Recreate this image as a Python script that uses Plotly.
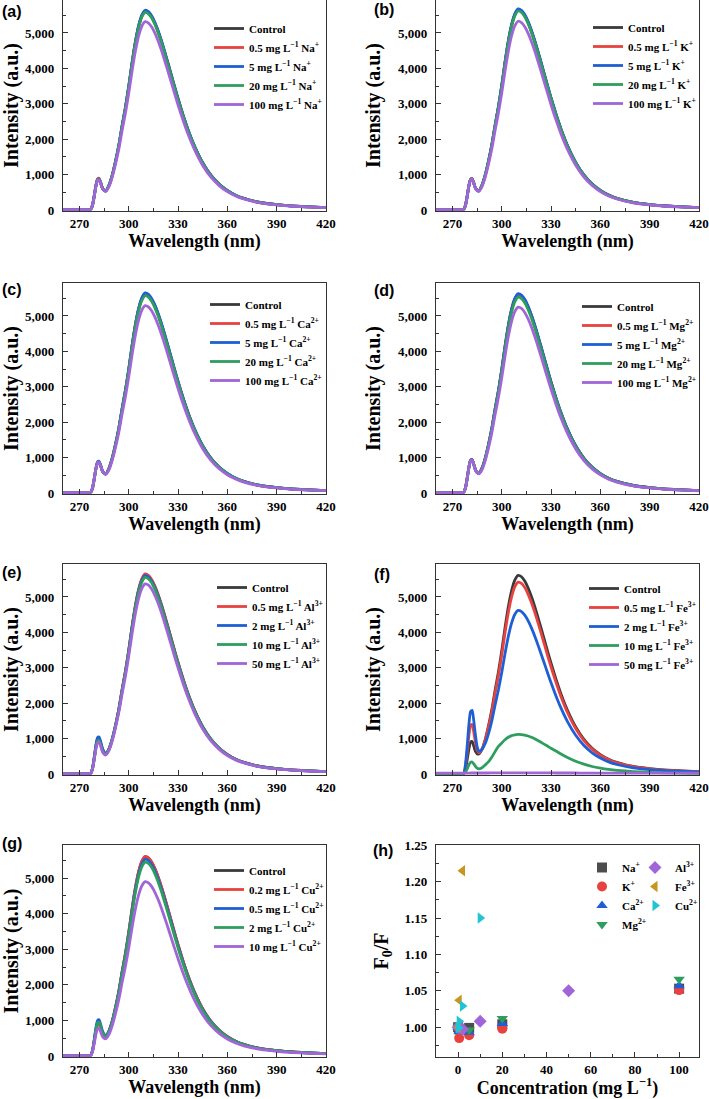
import plotly.graph_objects as go

# ---------------- data ----------------
wl = [260, 276, 277, 278, 279, 280, 281, 282, 283, 284, 285, 286, 288, 290, 292, 294, 296, 298,
      300, 302, 304, 306, 308, 310, 312, 314, 316, 318, 320, 322, 324, 326, 328, 330,
      333, 336, 340, 345, 350, 355, 360, 365, 370, 380, 390, 400, 410, 420]

# (a) Na+
a_control = [15, 15, 30, 150, 400, 680, 860, 880, 760, 620, 560, 540, 700, 990, 1380, 1830, 2380, 2890, 3480, 4130, 4720, 5180, 5480, 5610, 5570, 5450, 5260, 5020, 4740, 4430, 4110, 3780, 3450, 3130, 2680, 2270, 1800, 1330, 980, 730, 550, 420, 330, 215, 155, 115, 90, 72]
a_05 = [15, 15, 30, 155, 410, 695, 880, 900, 775, 630, 565, 540, 700, 990, 1380, 1830, 2380, 2890, 3486, 4137, 4728, 5189, 5490, 5620, 5580, 5460, 5269, 5029, 4748, 4438, 4117, 3787, 3456, 3136, 2680, 2270, 1800, 1330, 980, 730, 550, 420, 330, 215, 155, 115, 90, 72]
a_5 = [15, 15, 30, 150, 400, 680, 860, 880, 760, 620, 560, 540, 705, 995, 1390, 1840, 2390, 2905, 3499, 4152, 4745, 5208, 5509, 5640, 5600, 5479, 5288, 5047, 4765, 4454, 4132, 3800, 3468, 3147, 2695, 2282, 1810, 1337, 985, 734, 553, 422, 332, 216, 156, 116, 90, 72]
a_20 = [15, 15, 30, 148, 395, 672, 850, 870, 752, 614, 556, 538, 697, 985, 1373, 1820, 2368, 2875, 3461, 4108, 4695, 5152, 5451, 5580, 5540, 5421, 5232, 4993, 4715, 4406, 4088, 3760, 3432, 3113, 2666, 2258, 1790, 1323, 975, 726, 547, 418, 328, 214, 154, 114, 89, 72]
a_100 = [15, 15, 30, 145, 385, 655, 835, 850, 735, 600, 550, 535, 664, 939, 1308, 1735, 2256, 2740, 3299, 3915, 4475, 4911, 5195, 5318, 5280, 5167, 4986, 4759, 4494, 4200, 3896, 3583, 3271, 2967, 2541, 2152, 1706, 1261, 929, 692, 521, 398, 313, 204, 147, 109, 85, 68]

# (b) K+
b_control = [15, 15, 30, 150, 400, 680, 860, 880, 760, 620, 560, 540, 703, 995, 1388, 1842, 2395, 2910, 3505, 4160, 4754, 5217, 5519, 5650, 5610, 5489, 5298, 5056, 4774, 4462, 4139, 3807, 3474, 3152, 2699, 2286, 1813, 1340, 987, 735, 554, 423, 332, 217, 156, 116, 91, 73]
b_05 = [15, 15, 30, 152, 405, 688, 870, 890, 768, 625, 562, 540, 703, 995, 1388, 1842, 2395, 2910, 3505, 4160, 4754, 5217, 5519, 5650, 5610, 5489, 5298, 5056, 4774, 4462, 4139, 3807, 3474, 3152, 2699, 2286, 1813, 1340, 987, 735, 554, 423, 332, 217, 156, 116, 91, 73]
b_5 = [15, 15, 30, 150, 400, 680, 860, 880, 760, 620, 560, 540, 709, 1002, 1397, 1853, 2410, 2926, 3523, 4182, 4779, 5245, 5548, 5680, 5640, 5518, 5326, 5083, 4799, 4485, 4161, 3827, 3493, 3169, 2713, 2298, 1822, 1347, 992, 739, 557, 425, 334, 218, 157, 116, 91, 73]
b_20 = [15, 15, 30, 150, 400, 680, 860, 880, 760, 620, 560, 540, 701, 992, 1382, 1833, 2384, 2895, 3486, 4137, 4728, 5189, 5490, 5620, 5580, 5460, 5269, 5029, 4748, 4438, 4117, 3787, 3456, 3136, 2685, 2274, 1803, 1332, 982, 731, 551, 421, 331, 215, 155, 115, 90, 72]
b_100 = [15, 15, 30, 150, 395, 670, 850, 870, 750, 612, 553, 536, 665, 941, 1311, 1739, 2261, 2746, 3306, 3924, 4484, 4922, 5206, 5330, 5292, 5178, 4997, 4769, 4503, 4209, 3905, 3591, 3278, 2974, 2546, 2157, 1710, 1264, 931, 694, 523, 399, 314, 204, 147, 109, 86, 68]

# (c) Ca2+
c_control = [15, 15, 30, 150, 400, 680, 860, 880, 760, 620, 560, 540, 701, 992, 1382, 1833, 2384, 2895, 3486, 4137, 4728, 5189, 5490, 5620, 5580, 5460, 5269, 5029, 4748, 4438, 4117, 3787, 3456, 3136, 2685, 2274, 1803, 1332, 982, 731, 551, 421, 331, 215, 155, 115, 90, 72]
c_05 = [15, 15, 30, 150, 400, 680, 860, 880, 760, 620, 560, 540, 701, 992, 1382, 1833, 2384, 2895, 3486, 4137, 4728, 5189, 5490, 5620, 5580, 5460, 5269, 5029, 4748, 4438, 4117, 3787, 3456, 3136, 2685, 2274, 1803, 1332, 982, 731, 551, 421, 331, 215, 155, 115, 90, 72]
c_5 = [15, 15, 30, 155, 410, 695, 880, 900, 775, 630, 565, 540, 703, 995, 1388, 1842, 2395, 2910, 3505, 4160, 4754, 5217, 5519, 5650, 5610, 5489, 5298, 5056, 4774, 4462, 4139, 3807, 3474, 3152, 2699, 2286, 1813, 1340, 987, 735, 554, 423, 332, 217, 156, 116, 91, 73]
c_20 = [15, 15, 30, 150, 400, 680, 860, 880, 760, 620, 560, 540, 695, 983, 1370, 1817, 2363, 2869, 3455, 4100, 4686, 5143, 5441, 5570, 5530, 5411, 5222, 4984, 4706, 4398, 4081, 3753, 3426, 3108, 2661, 2254, 1787, 1320, 973, 725, 546, 417, 328, 213, 154, 114, 89, 71]
c_100 = [15, 15, 30, 148, 395, 672, 850, 870, 752, 614, 556, 538, 660, 934, 1301, 1726, 2244, 2725, 3282, 3895, 4451, 4885, 5168, 5290, 5253, 5139, 4960, 4734, 4470, 4177, 3876, 3565, 3253, 2952, 2527, 2141, 1697, 1254, 924, 688, 519, 396, 311, 203, 146, 108, 85, 68]

# (d) Mg2+
d_control = [15, 15, 30, 160, 425, 725, 920, 940, 810, 660, 585, 555, 705, 990, 1378, 1827, 2376, 2885, 3474, 4123, 4712, 5171, 5470, 5600, 5560, 5440, 5251, 5011, 4732, 4422, 4103, 3773, 3444, 3124, 2675, 2266, 1797, 1328, 978, 729, 549, 419, 329, 215, 155, 115, 90, 72]
d_05 = [15, 15, 30, 160, 425, 725, 920, 940, 810, 660, 585, 555, 705, 990, 1378, 1827, 2376, 2885, 3474, 4123, 4712, 5171, 5470, 5600, 5560, 5440, 5251, 5011, 4732, 4422, 4103, 3773, 3444, 3124, 2675, 2266, 1797, 1328, 978, 729, 549, 419, 329, 215, 155, 115, 90, 72]
d_5 = [15, 15, 30, 160, 425, 725, 920, 940, 810, 660, 585, 555, 707, 995, 1386, 1837, 2390, 2902, 3492, 4145, 4737, 5198, 5500, 5630, 5590, 5469, 5279, 5038, 4757, 4446, 4125, 3793, 3462, 3141, 2690, 2278, 1806, 1335, 983, 733, 552, 421, 331, 216, 156, 115, 90, 72]
d_20 = [15, 15, 30, 160, 420, 718, 912, 930, 800, 652, 580, 552, 697, 976, 1361, 1804, 2347, 2850, 3430, 4071, 4653, 5106, 5402, 5530, 5491, 5372, 5185, 4949, 4673, 4367, 4052, 3726, 3401, 3085, 2642, 2238, 1774, 1311, 966, 720, 542, 414, 325, 212, 153, 113, 89, 71]
d_100 = [15, 15, 30, 158, 420, 718, 912, 930, 800, 650, 575, 545, 660, 926, 1291, 1713, 2227, 2704, 3257, 3865, 4417, 4848, 5128, 5250, 5213, 5100, 4922, 4698, 4436, 4146, 3846, 3537, 3229, 2929, 2508, 2124, 1684, 1245, 917, 683, 515, 393, 309, 201, 145, 108, 84, 67]

# (e) Al3+
e_control = [15, 15, 30, 170, 450, 770, 980, 1000, 860, 700, 610, 570, 710, 995, 1382, 1833, 2384, 2895, 3486, 4137, 4728, 5189, 5490, 5620, 5580, 5460, 5269, 5029, 4748, 4438, 4117, 3787, 3456, 3136, 2685, 2274, 1803, 1332, 982, 731, 551, 421, 331, 215, 155, 115, 90, 72]
e_05 = [15, 15, 30, 170, 450, 770, 980, 1000, 860, 700, 610, 570, 712, 998, 1388, 1842, 2395, 2910, 3505, 4160, 4754, 5217, 5519, 5650, 5610, 5489, 5298, 5056, 4774, 4462, 4139, 3807, 3474, 3152, 2699, 2286, 1813, 1340, 987, 735, 554, 423, 332, 217, 156, 116, 91, 73]
e_2 = [15, 15, 30, 180, 475, 810, 1030, 1050, 905, 730, 630, 580, 715, 995, 1378, 1827, 2376, 2885, 3474, 4123, 4712, 5171, 5470, 5600, 5560, 5440, 5251, 5011, 4732, 4422, 4103, 3773, 3444, 3124, 2675, 2266, 1797, 1328, 978, 729, 549, 419, 329, 215, 155, 115, 90, 72]
e_10 = [15, 15, 30, 160, 430, 730, 930, 950, 815, 665, 590, 555, 700, 980, 1366, 1811, 2355, 2860, 3443, 4086, 4670, 5125, 5421, 5550, 5511, 5392, 5204, 4967, 4690, 4383, 4066, 3740, 3413, 3096, 2651, 2246, 1781, 1316, 970, 722, 544, 416, 327, 213, 153, 114, 89, 71]
e_50 = [15, 15, 30, 155, 410, 695, 880, 900, 775, 630, 565, 540, 670, 948, 1321, 1752, 2278, 2766, 3331, 3953, 4518, 4958, 5245, 5370, 5332, 5217, 5035, 4805, 4537, 4240, 3934, 3618, 3302, 2996, 2565, 2173, 1723, 1273, 938, 699, 526, 402, 316, 206, 148, 110, 86, 69]

# (f) Fe3+
f_control = [15, 15, 30, 155, 415, 705, 900, 918, 790, 640, 575, 570, 700, 990, 1380, 1830, 2380, 2890, 3480, 4130, 4720, 5180, 5480, 5610, 5570, 5450, 5260, 5020, 4740, 4430, 4110, 3780, 3450, 3130, 2680, 2270, 1800, 1330, 980, 730, 550, 420, 330, 215, 155, 115, 90, 72]
f_05 = [15, 15, 30, 240, 630, 1080, 1370, 1400, 1180, 900, 680, 600, 700, 960, 1340, 1770, 2300, 2790, 3362, 3990, 4560, 5004, 5294, 5420, 5381, 5265, 5082, 4850, 4579, 4280, 3971, 3652, 3333, 3024, 2589, 2193, 1739, 1285, 947, 705, 531, 406, 319, 208, 150, 111, 87, 70]
f_2 = [15, 15, 30, 300, 810, 1390, 1760, 1800, 1500, 1100, 780, 640, 700, 870, 1150, 1510, 1960, 2380, 2866, 3401, 3887, 4266, 4513, 4620, 4587, 4488, 4332, 4134, 3903, 3648, 3385, 3113, 2841, 2578, 2207, 1869, 1482, 1095, 807, 601, 453, 346, 272, 177, 128, 95, 74, 59]
f_10 = [10, 10, 20, 60, 150, 260, 330, 340, 290, 220, 170, 150, 180, 260, 350, 480, 640, 780, 880, 970, 1040, 1085, 1110, 1120, 1115, 1100, 1075, 1040, 1000, 950, 895, 840, 785, 730, 650, 570, 470, 365, 280, 215, 170, 135, 108, 72, 50, 37, 29, 23]
f_50 = [28, 28, 28, 29, 30, 30, 31, 31, 31, 31, 31, 31, 31, 32, 32, 33, 33, 34, 34, 35, 35, 35, 35, 35, 35, 35, 35, 35, 34, 34, 34, 33, 33, 33, 32, 32, 31, 31, 30, 30, 30, 29, 29, 29, 28, 28, 28, 28]

# (g) Cu2+
g_control = [15, 15, 30, 160, 430, 730, 930, 950, 815, 665, 590, 555, 705, 990, 1378, 1827, 2376, 2885, 3474, 4123, 4712, 5171, 5470, 5600, 5560, 5440, 5251, 5011, 4732, 4422, 4103, 3773, 3444, 3124, 2675, 2266, 1797, 1328, 978, 729, 549, 419, 329, 215, 155, 115, 90, 72]
g_02 = [15, 15, 30, 155, 410, 695, 880, 900, 775, 630, 565, 540, 700, 990, 1380, 1830, 2380, 2890, 3480, 4130, 4720, 5180, 5480, 5610, 5570, 5450, 5260, 5020, 4740, 4430, 4110, 3780, 3450, 3130, 2680, 2270, 1800, 1330, 980, 730, 550, 420, 330, 215, 155, 115, 90, 72]
g_05 = [15, 15, 30, 175, 460, 785, 1000, 1020, 875, 710, 615, 575, 705, 980, 1361, 1804, 2347, 2850, 3430, 4071, 4653, 5106, 5402, 5530, 5491, 5372, 5185, 4949, 4673, 4367, 4052, 3726, 3401, 3085, 2642, 2238, 1774, 1311, 966, 720, 542, 414, 325, 212, 153, 113, 89, 71]
g_2 = [15, 15, 30, 160, 430, 730, 930, 950, 815, 665, 585, 550, 690, 962, 1341, 1778, 2312, 2807, 3381, 4012, 4586, 5033, 5324, 5450, 5411, 5295, 5110, 4878, 4606, 4304, 3993, 3673, 3352, 3040, 2604, 2205, 1749, 1292, 952, 709, 534, 408, 321, 209, 151, 112, 87, 70]
g_10 = [15, 15, 30, 135, 350, 600, 765, 780, 670, 550, 500, 490, 611, 865, 1205, 1598, 2079, 2524, 3039, 3607, 4122, 4524, 4786, 4900, 4865, 4760, 4594, 4384, 4140, 3869, 3590, 3301, 3013, 2734, 2341, 1983, 1572, 1162, 856, 638, 480, 367, 288, 188, 135, 100, 79, 63]

# legend labels
L1 = "mg L<sup>\u22121</sup>"
a_labels = ["Control", f"0.5 {L1} Na<sup>+</sup>", f"5 {L1} Na<sup>+</sup>", f"20 {L1} Na<sup>+</sup>", f"100 {L1} Na<sup>+</sup>"]
b_labels = ["Control", f"0.5 {L1} K<sup>+</sup>", f"5 {L1} K<sup>+</sup>", f"20 {L1} K<sup>+</sup>", f"100 {L1} K<sup>+</sup>"]
c_labels = ["Control", f"0.5 {L1} Ca<sup>2+</sup>", f"5 {L1} Ca<sup>2+</sup>", f"20 {L1} Ca<sup>2+</sup>", f"100 {L1} Ca<sup>2+</sup>"]
d_labels = ["Control", f"0.5 {L1} Mg<sup>2+</sup>", f"5 {L1} Mg<sup>2+</sup>", f"20 {L1} Mg<sup>2+</sup>", f"100 {L1} Mg<sup>2+</sup>"]
e_labels = ["Control", f"0.5 {L1} Al<sup>3+</sup>", f"2 {L1} Al<sup>3+</sup>", f"10 {L1} Al<sup>3+</sup>", f"50 {L1} Al<sup>3+</sup>"]
f_labels = ["Control", f"0.5 {L1} Fe<sup>3+</sup>", f"2 {L1} Fe<sup>3+</sup>", f"10 {L1} Fe<sup>3+</sup>", f"50 {L1} Fe<sup>3+</sup>"]
g_labels = ["Control", f"0.2 {L1} Cu<sup>2+</sup>", f"0.5 {L1} Cu<sup>2+</sup>", f"2 {L1} Cu<sup>2+</sup>", f"10 {L1} Cu<sup>2+</sup>"]

# (h) quenching ratio F0/F
h_conc_na = [0, 0.5, 5, 20, 100]
h_na = [1.000, 0.997, 0.999, 1.004, 1.053]
h_conc_k = [0, 0.5, 5, 20, 100]
h_k = [1.000, 0.985, 0.989, 0.998, 1.051]
h_conc_ca = [0, 0.5, 5, 20, 100]
h_ca = [1.000, 0.994, 0.993, 1.005, 1.057]
h_conc_mg = [0, 0.5, 5, 20, 100]
h_mg = [1.000, 0.999, 0.996, 1.012, 1.066]
h_conc_al = [0, 0.5, 2, 10, 50]
h_al = [1.000, 0.999, 0.997, 1.008, 1.050]
h_conc_fe = [0, 0.5, 2]
h_fe = [1.000, 1.037, 1.215]
h_conc_cu = [0, 0.2, 0.5, 2, 10]
h_cu = [1.000, 0.999, 1.008, 1.029, 1.150]

# ---------------- style ----------------
W, H = 709, 1099
line_colors = ['#3a3a3a', '#e8423f', '#1f5fd6', '#2e9e5e', '#a066d8']
SERIF = 'Liberation Serif'
AX = '#333333'

col_x = [[63 / W, 326 / W], [436 / W, 699 / W]]
row_y = [[1 - 211 / H, 1.0], [1 - 494 / H, 1 - 283 / H], [1 - 775 / H, 1 - 564 / H], [1 - 1057 / H, 1 - 845 / H]]

spec_panels = [
    ('a', [a_control, a_05, a_5, a_20, a_100], a_labels, 0, 0, (214, 26)),
    ('b', [b_control, b_05, b_5, b_20, b_100], b_labels, 0, 1, (593, 25)),
    ('c', [c_control, c_05, c_5, c_20, c_100], c_labels, 1, 0, (210, 302)),
    ('d', [d_control, d_05, d_5, d_20, d_100], d_labels, 1, 1, (582, 304)),
    ('e', [e_control, e_05, e_2, e_10, e_50], e_labels, 2, 0, (217, 585)),
    ('f', [f_control, f_05, f_2, f_10, f_50], f_labels, 2, 1, (589, 586)),
    ('g', [g_control, g_02, g_05, g_2, g_10], g_labels, 3, 0, (214, 868)),
]

fig = go.Figure()
layout = dict(width=W, height=H, margin=dict(l=0, r=0, t=0, b=0, pad=0),
              paper_bgcolor='white', plot_bgcolor='white', showlegend=True,
              annotations=[])


def axis_common():
    return dict(showline=True, linecolor=AX, linewidth=1.3, mirror=True,
                ticks='inside', ticklen=5, tickwidth=1.2, tickcolor=AX,
                showgrid=False, zeroline=False, automargin=False,
                ticklabeloverflow='allow',
                tickfont=dict(family=SERIF, size=13, color='black', weight='bold'))


legend_font = dict(family=SERIF, size=11, color='black', weight='bold')

for i, (key, series, labels, r, c, (lx, ly)) in enumerate(spec_panels):
    n = i + 1
    xa = f'xaxis{n}' if n > 1 else 'xaxis'
    ya = f'yaxis{n}' if n > 1 else 'yaxis'
    xr = f'x{n}' if n > 1 else 'x'
    yr = f'y{n}' if n > 1 else 'y'
    lg = f'legend{n}' if n > 1 else 'legend'
    for s, lab, colr in zip(series, labels, line_colors):
        fig.add_trace(go.Scatter(x=wl, y=s, mode='lines', name=lab,
                                 line=dict(color=colr, width=2.8, shape='spline', smoothing=0.6),
                                 xaxis=xr, yaxis=yr, legend=lg))
    xd = axis_common()
    xd.update(domain=col_x[c], range=[260, 420.01], tick0=270, dtick=30, anchor=yr,
              ticklabelstandoff=0,
              minor=dict(ticks='inside', ticklen=3, tickwidth=1, tickcolor=AX, tick0=270, dtick=15),
              title=dict(text='Wavelength (nm)', standoff=4,
                         font=dict(family=SERIF, size=18, color='black', weight='bold')))
    yd = axis_common()
    yd.update(domain=row_y[r], range=[-25, 5930], tick0=0, dtick=1000, tickformat=',d', anchor=xr,
              ticklabelstandoff=5,
              minor=dict(ticks='inside', ticklen=3, tickwidth=1, tickcolor=AX, tick0=0, dtick=500),
              title=dict(text='Intensity (a.u.)', standoff=12,
                         font=dict(family=SERIF, size=20, color='black', weight='bold')))
    layout[xa] = xd
    layout[ya] = yd
    layout[lg] = dict(x=(lx - 5) / W, xanchor='left', y=1 - (ly - 12) / H, yanchor='top',
                      bgcolor='rgba(0,0,0,0)', font=legend_font, itemwidth=30,
                      tracegroupgap=0)

# panel (h)
h_series = [
    ('Na<sup>+</sup>', h_conc_na, h_na, 'square', '#4d4d4d', 'legend8'),
    ('K<sup>+</sup>', h_conc_k, h_k, 'circle', '#e8423f', 'legend8'),
    ('Ca<sup>2+</sup>', h_conc_ca, h_ca, 'triangle-up', '#1f5fd6', 'legend8'),
    ('Mg<sup>2+</sup>', h_conc_mg, h_mg, 'triangle-down', '#2e9e5e', 'legend8'),
    ('Al<sup>3+</sup>', h_conc_al, h_al, 'diamond', '#a066d8', 'legend9'),
    ('Fe<sup>3+</sup>', h_conc_fe, h_fe, 'triangle-left', '#c8961e', 'legend9'),
    ('Cu<sup>2+</sup>', h_conc_cu, h_cu, 'triangle-right', '#22c4d4', 'legend9'),
]
for name, xs, ys, sym, colr, lg in h_series:
    fig.add_trace(go.Scatter(x=xs, y=ys, mode='markers', name=name,
                             marker=dict(symbol=sym, color=colr, size=10, line=dict(width=0)),
                             xaxis='x8', yaxis='y8', legend=lg))

xd = axis_common()
xd.update(domain=col_x[1], range=[-10, 109], tick0=0, dtick=20, anchor='y8', ticklabelstandoff=0,
          minor=dict(ticks='inside', ticklen=3, tickwidth=1, tickcolor=AX, tick0=0, dtick=10),
          title=dict(text='Concentration (mg L<sup>\u22121</sup>)', standoff=4,
                     font=dict(family=SERIF, size=18, color='black', weight='bold')))
yd = axis_common()
yd.update(domain=row_y[3], range=[0.959, 1.2505], tick0=1.0, dtick=0.05, tickformat='.2f', anchor='x8',
          ticklabelstandoff=5,
          minor=dict(ticks='inside', ticklen=3, tickwidth=1, tickcolor=AX, tick0=1.0, dtick=0.025),
          title=dict(text='F<sub>0</sub>/F', standoff=10,
                     font=dict(family=SERIF, size=20, color='black', weight='bold')))
layout['xaxis8'] = xd
layout['yaxis8'] = yd
layout['legend8'] = dict(x=582 / W, xanchor='left', y=1 - 853 / H, yanchor='top',
                         bgcolor='rgba(0,0,0,0)', font=legend_font, itemwidth=30)
layout['legend9'] = dict(x=635 / W, xanchor='left', y=1 - 853 / H, yanchor='top',
                         bgcolor='rgba(0,0,0,0)', font=legend_font, itemwidth=30)

# panel letters
letters = [('(a)', 12, 12), ('(b)', 384, 10), ('(c)', 12, 289), ('(d)', 384, 290),
           ('(e)', 12, 572), ('(f)', 382, 574), ('(g)', 12, 843), ('(h)', 383, 850)]
for txt, px, py in letters:
    layout['annotations'].append(dict(text=txt, x=px / W, y=1 - py / H, xref='paper', yref='paper',
                                      xanchor='center', yanchor='middle', showarrow=False,
                                      font=dict(family='Liberation Sans', size=16, color='black',
                                                weight='bold')))

fig.update_layout(**layout)
fig.write_html("out.html", config={'displayModeBar': False},
               post_script="document.body.style.margin='0px';document.body.style.overflow='hidden';")
